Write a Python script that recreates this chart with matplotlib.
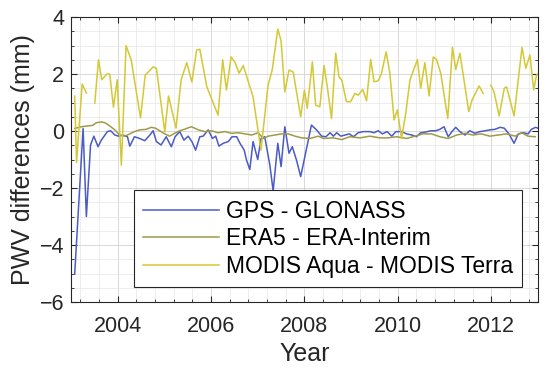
import numpy as np
from matplotlib import pyplot as plt
from matplotlib.ticker import MultipleLocator

# GPS - GLONASS
gps_year = [2003.08, 2003.26, 2003.33, 2003.42, 2003.49, 2003.58, 2003.65, 2003.78, 2003.85, 2003.94,
            2004.02, 2004.11, 2004.21, 2004.26, 2004.36, 2004.47, 2004.58, 2004.69, 2004.76, 2004.83,
            2004.93, 2005.04, 2005.15, 2005.23, 2005.33, 2005.42, 2005.51, 2005.59, 2005.67, 2005.76,
            2005.83, 2005.94, 2006.03, 2006.10, 2006.17, 2006.26, 2006.37, 2006.45, 2006.55, 2006.62,
            2006.71, 2006.76, 2006.83, 2006.90, 2007.00, 2007.07, 2007.15, 2007.26, 2007.33, 2007.43,
            2007.50, 2007.58, 2007.67, 2007.74, 2007.83, 2007.92, 2008.15, 2008.26, 2008.37, 2008.46,
            2008.55, 2008.62, 2008.69, 2008.78, 2008.87, 2008.96, 2009.05, 2009.15, 2009.26, 2009.40,
            2009.49, 2009.58, 2009.67, 2009.77, 2009.87, 2009.96, 2010.08, 2010.19, 2010.30, 2010.40,
            2010.49, 2010.58, 2010.71, 2010.81, 2010.90, 2010.99, 2011.08, 2011.16, 2011.24, 2011.33,
            2011.44, 2011.54, 2011.65, 2011.76, 2011.87, 2011.97, 2012.08, 2012.19, 2012.28, 2012.38,
            2012.49, 2012.58, 2012.69, 2012.79, 2012.86, 2012.95, 2013.00]
gps_diff = [-5.02, 0.09, -3.0, -0.49, -0.18, -0.55, -0.32, -0.02, 0.01, -0.14,
            -0.18, -0.14, -0.2, -0.53, -0.2, -0.26, -0.34, -0.14, 0.01, -0.37,
            -0.49, -0.2, -0.55, -0.2, -0.02, -0.32, -0.18, -0.37, -0.67, -0.2,
            -0.18, 0.04, -0.26, -0.18, -0.53, -0.43, -0.37, -0.2, -0.2, -0.43,
            -0.67, -1.02, -1.35, -0.37, -1.0, -0.26, -0.2, -1.2, -2.1, -0.43,
            -1.25, 0.15, -0.78, -0.55, -1.02, -1.6, 0.21, 0.04, -0.18, -0.2,
            -0.06, -0.18, -0.06, -0.18, -0.14, -0.1, -0.2, -0.06, -0.02, -0.02,
            -0.06, 0.01, -0.1, -0.02, -0.18, -0.02, -0.02, -0.1, -0.14, -0.2,
            -0.06, -0.04, 0.01, 0.01, 0.06, 0.15, -0.2, -0.02, 0.13, -0.02,
            -0.14, 0.01, -0.08, -0.02, 0.01, 0.04, 0.06, 0.13, 0.1, -0.1,
            -0.43, -0.1, -0.06, -0.1, 0.06, 0.13, 0.1]

# ERA5 - ERA-Interim
era_year = [2003.08, 2003.22, 2003.36, 2003.47, 2003.54, 2003.65, 2003.73, 2003.83, 2003.94, 2004.04,
            2004.15, 2004.26, 2004.36, 2004.47, 2004.61, 2004.72, 2004.81, 2004.90, 2005.01, 2005.11,
            2005.22, 2005.33, 2005.43, 2005.54, 2005.58, 2005.73, 2005.87, 2006.01, 2006.15, 2006.30,
            2006.44, 2006.58, 2006.73, 2006.87, 2007.01, 2007.12, 2007.22, 2007.37, 2007.51, 2007.65,
            2007.80, 2007.94, 2008.12, 2008.30, 2008.40, 2008.62, 2008.80, 2008.97, 2009.19, 2009.40,
            2009.62, 2009.79, 2009.97, 2010.19, 2010.37, 2010.54, 2010.72, 2010.90, 2011.08, 2011.26,
            2011.44, 2011.61, 2011.79, 2011.97, 2012.15, 2012.33, 2012.51, 2012.65, 2012.79, 2012.94]
era_diff = [0.09, 0.15, 0.18, 0.2, 0.29, 0.32, 0.29, 0.18, 0.04, -0.14,
            -0.18, -0.1, -0.02, 0.04, 0.06, 0.13, 0.1, 0.01, -0.1, -0.18,
            -0.08, 0.01, 0.06, 0.13, 0.15, 0.04, -0.02, 0.01, -0.06, -0.02,
            -0.08, -0.06, -0.1, -0.14, -0.06, -0.26, -0.18, -0.14, -0.1, -0.1,
            -0.18, -0.24, -0.26, -0.18, -0.26, -0.24, -0.3, -0.2, -0.24, -0.18,
            -0.24, -0.24, -0.2, -0.26, -0.18, -0.1, -0.1, -0.2, -0.26, -0.14,
            -0.08, -0.14, -0.1, -0.18, -0.14, -0.1, -0.18, -0.06, -0.18, -0.2]

# MODIS Aqua - MODIS Terra (nan = missing month)
modis_year = [2003.08, 2003.12, 2003.24, 2003.33, 2003.42, 2003.51, 2003.59, 2003.66, 2003.77, 2003.83,
              2003.91, 2003.99, 2004.08, 2004.18, 2004.29, 2004.49, 2004.59, 2004.76, 2004.83, 2005.01,
              2005.09, 2005.25, 2005.36, 2005.48, 2005.59, 2005.69, 2005.76, 2005.91, 2006.15, 2006.25,
              2006.33, 2006.43, 2006.51, 2006.60, 2006.69, 2006.90, 2007.07, 2007.22, 2007.31, 2007.43,
              2007.50, 2007.58, 2007.67, 2007.76, 2007.92, 2008.00, 2008.06, 2008.17, 2008.24, 2008.33,
              2008.42, 2008.49, 2008.58, 2008.67, 2008.74, 2008.80, 2008.90, 2008.99, 2009.08, 2009.15,
              2009.25, 2009.33, 2009.42, 2009.49, 2009.58, 2009.65, 2009.75, 2009.83, 2009.92, 2009.99,
              2010.08, 2010.17, 2010.26, 2010.42, 2010.49, 2010.58, 2010.67, 2010.76, 2010.83, 2010.92,
              2011.07, 2011.17, 2011.24, 2011.33, 2011.52, 2011.59, 2011.74, 2011.83, 2011.91, 2011.99,
              2012.06, 2012.17, 2012.28, 2012.33, 2012.49, 2012.66, 2012.74, 2012.83, 2012.91, 2012.97,
              2013.00]
modis_diff = [1.23, -1.1, 1.65, 1.33, np.nan, 0.98, 2.5, 1.8, 2.0, 2.0,
              0.84, 1.8, -1.2, 3.0, 2.5, 0.46, 1.96, 2.25, 2.2, -0.03,
              1.23, 0.1, 1.8, 2.4, 1.72, 2.84, 2.87, 1.55, 0.56, 2.5,
              1.44, 2.6, 2.42, 2.03, 2.3, 1.2, -0.67, 1.6, 2.14, 3.58,
              3.17, 1.37, 2.14, 2.07, 0.5, 1.44, 0.8, 2.43, 0.91, 0.85,
              2.3, 1.55, 0.44, 2.73, 1.9, 1.79, 1.03, 1.03, 1.32, 1.26,
              1.46, 1.06, 2.51, 1.73, 1.76, 2.02, 2.78, 2.02, 0.39, 0.74,
              -0.26, 0.62, 1.79, 2.51, 1.5, 2.4, 1.23, 2.6, 2.51, 2.02,
              0.44, 2.94, 2.16, 2.73, 0.68, 1.09, 1.58, 1.32, np.nan, 1.61,
              1.38, 0.53, 1.5, 1.55, 0.53, 2.94, 2.2, 2.67, 1.44, 1.96,
              2.0]

year_ticks = [2004, 2006, 2008, 2010, 2012]

plt.rcParams['font.family'] = ['Liberation Sans', 'DejaVu Sans']

fig = plt.figure(figsize=(5.5, 3.71), dpi=100)
ax = fig.add_axes([0.129, 0.186, 0.849, 0.768])

ax.plot(gps_year, gps_diff, color='#4a5bc6', lw=1.1, label='GPS - GLONASS')
ax.plot(era_year, era_diff, color='#a09a48', lw=1.1, label='ERA5 - ERA-Interim')
ax.plot(modis_year, modis_diff, color='#d4c834', lw=1.1, label='MODIS Aqua - MODIS Terra')

ax.set_xlim(2003, 2013)
ax.set_ylim(-6, 4)
ax.set_xticks(year_ticks)
ax.set_yticks([-6, -4, -2, 0, 2, 4])
ax.xaxis.set_minor_locator(MultipleLocator(0.4))
ax.yaxis.set_minor_locator(MultipleLocator(0.5))

ax.grid(which='major', color='#d2d2d2', lw=0.6)
ax.grid(which='minor', color='#e6e6e6', lw=0.5)
ax.set_axisbelow(True)

for s in ax.spines.values():
    s.set_color('#262626')
    s.set_linewidth(0.8)
ax.tick_params(which='both', direction='in', top=True, right=True, colors='#262626')
ax.tick_params(which='major', length=4, labelsize=15.5)
ax.tick_params(axis='x', which='major', pad=10)
ax.tick_params(axis='y', which='major', pad=5)
ax.tick_params(which='minor', length=2)

ax.set_xlabel('Year', fontsize=18, color='#262626', labelpad=4)
ax.set_ylabel('PWV differences (mm)', fontsize=18, color='#262626', labelpad=3)

leg = ax.legend(loc='lower right', bbox_to_anchor=(0.966, 0.053), fontsize=16.5,
                fancybox=False, framealpha=1, edgecolor='#262626',
                handlelength=3.3, handletextpad=0.3, labelspacing=0.2,
                borderpad=0.4, borderaxespad=0)
leg.get_frame().set_linewidth(0.8)

fig.savefig('out.png', dpi=100)
